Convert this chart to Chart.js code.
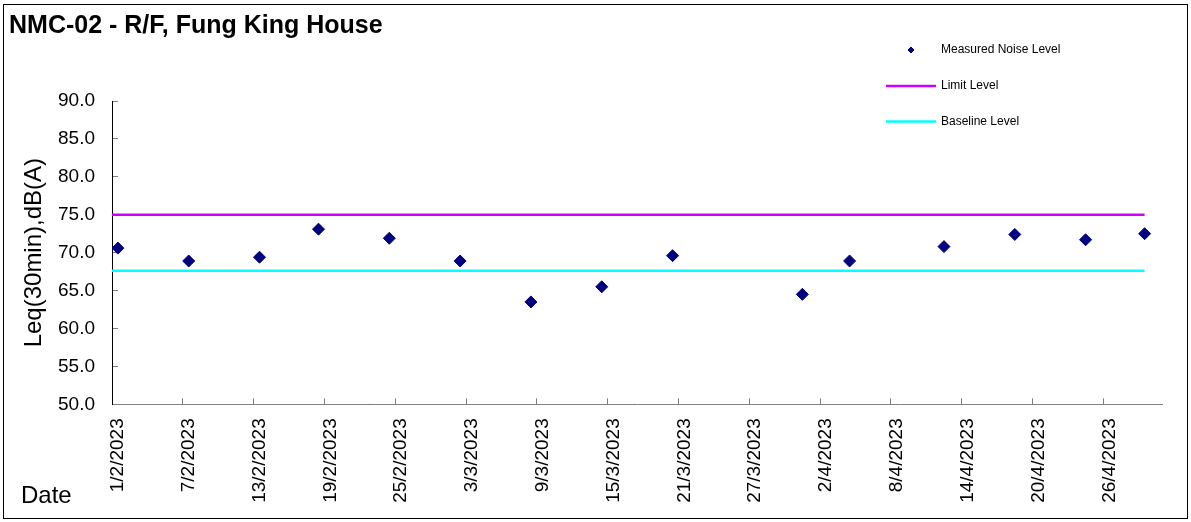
<!DOCTYPE html>
<html>
<head>
<meta charset="utf-8">
<script src="https://cdn.jsdelivr.net/npm/chart.js@4/dist/chart.umd.min.js"></script>
<style>
html, body { margin: 0; padding: 0; background: #fff; }
canvas { display: block; }
</style>
</head>
<body>
<canvas id="c" width="1191" height="522"></canvas>
<script>
// ---- data ----
const measuredDates = ["1/2/2023", "7/2/2023", "13/2/2023", "18/2/2023", "24/2/2023", "2/3/2023", "8/3/2023", "14/3/2023", "20/3/2023", "31/3/2023", "4/4/2023", "12/4/2023", "18/4/2023", "24/4/2023", "29/4/2023"];
const measuredValues = [70.6, 68.9, 69.4, 73.1, 71.9, 68.9, 63.5, 65.5, 69.6, 64.5, 68.9, 70.8, 72.4, 71.7, 72.5];
const limitLevel = 75.0;
const baselineLevel = 67.6;
const tickLabels = ["1/2/2023", "7/2/2023", "13/2/2023", "19/2/2023", "25/2/2023", "3/3/2023", "9/3/2023", "15/3/2023", "21/3/2023", "27/3/2023", "2/4/2023", "8/4/2023", "14/4/2023", "20/4/2023", "26/4/2023"];
const axisStartDate = "1/2/2023";
const axisEndDate = "1/5/2023";
const yMin = 50, yMax = 90, yStep = 5;
const seriesNames = ["Measured Noise Level", "Limit Level", "Baseline Level"];
const chartTitle = "NMC-02 - R/F, Fung King House";
const yTitle = "Leq(30min),dB(A)";
const xTitle = "Date";

// ---- helpers ----
function toUTC(s) {
  const [d, m, y] = s.split("/").map(Number);
  return Date.UTC(y, m - 1, d);
}
const startUTC = toUTC(axisStartDate);
function dayIndex(s) { return Math.round((toUTC(s) - startUTC) / 86400000); }
const SLOT_CENTER = 0.5; // Excel date axis: points sit in the middle of their day slot

const measuredPoints = measuredDates.map((d, i) => ({ x: dayIndex(d) + SLOT_CENTER, y: measuredValues[i] }));
const lineStart = dayIndex(axisStartDate);
const lineEnd = dayIndex(measuredDates[measuredDates.length - 1]) + SLOT_CENTER;
const tickDays = tickLabels.map(dayIndex);

const FONT = "'Liberation Sans', Arial, Helvetica, sans-serif";
Chart.defaults.font.family = FONT;
Chart.defaults.color = "#000";

const framePlugin = {
  id: "frame",
  beforeDraw(chart) {
    const ctx = chart.ctx;
    ctx.save();
    ctx.fillStyle = "#fff";
    ctx.fillRect(0, 0, chart.width, chart.height);
    ctx.strokeStyle = "#000";
    ctx.lineWidth = 1;
    ctx.strokeRect(3.5, 4.5, 1184, 514);
    ctx.restore();
  }
};

const legendLayout = { markerX: 911, lineX1: 886, lineX2: 936, textX: 941, rows: [50, 86, 121.5] };

const customLegend = {
  id: "customLegend",
  afterDraw(chart) {
    const ctx = chart.ctx;
    ctx.save();
    ctx.font = "12px " + FONT;
    ctx.textBaseline = "middle";
    ctx.textAlign = "left";
    chart.data.datasets.forEach((ds, i) => {
      const y = legendLayout.rows[i];
      if (ds.showLine) {
        ctx.strokeStyle = ds.borderColor;
        ctx.lineWidth = ds.borderWidth;
        ctx.beginPath();
        ctx.moveTo(legendLayout.lineX1, y);
        ctx.lineTo(legendLayout.lineX2, y);
        ctx.stroke();
      } else {
        ctx.fillStyle = ds.backgroundColor;
        ctx.strokeStyle = ds.borderColor;
        ctx.lineWidth = 1;
        ctx.beginPath();
        ctx.moveTo(legendLayout.markerX - 3, y);
        ctx.lineTo(legendLayout.markerX, y - 3);
        ctx.lineTo(legendLayout.markerX + 3, y);
        ctx.lineTo(legendLayout.markerX, y + 3);
        ctx.closePath();
        ctx.fill();
        ctx.stroke();
      }
      ctx.fillStyle = "#000";
      ctx.fillText(ds.label, legendLayout.textX, y);
    });
    // x axis title, placed at bottom-left like the original
    const xt = chart.options.scales.x.title;
    ctx.font = "24px " + FONT;
    ctx.textBaseline = "alphabetic";
    ctx.fillStyle = "#000";
    ctx.fillText(xt.text, 21, 502.5);
    ctx.restore();
  }
};

new Chart(document.getElementById("c"), {
  type: "scatter",
  data: {
    datasets: [
      {
        label: seriesNames[0],
        data: measuredPoints,
        showLine: false,
        pointStyle: "rectRot",
        pointRadius: 6,
        pointHoverRadius: 6,
        backgroundColor: "#000080",
        borderColor: "#000080",
        borderWidth: 1
      },
      {
        label: seriesNames[1],
        data: [{ x: lineStart, y: limitLevel }, { x: lineEnd, y: limitLevel }],
        showLine: true,
        pointRadius: 0,
        borderColor: "#CC00FF",
        backgroundColor: "#CC00FF",
        borderWidth: 2.5
      },
      {
        label: seriesNames[2],
        data: [{ x: lineStart, y: baselineLevel }, { x: lineEnd, y: baselineLevel }],
        showLine: true,
        pointRadius: 0,
        borderColor: "#00FFFF",
        backgroundColor: "#00FFFF",
        borderWidth: 2.5
      }
    ]
  },
  options: {
    responsive: false,
    animation: false,
    layout: { padding: { left: 9, right: 28.7, top: 0, bottom: 0 } },
    plugins: {
      legend: { display: false },
      tooltip: { enabled: false },
      title: {
        display: true,
        text: chartTitle,
        align: "start",
        color: "#000",
        font: { size: 25, weight: "bold" },
        padding: { top: 11, bottom: 60 }
      }
    },
    scales: {
      x: {
        type: "linear",
        min: dayIndex(axisStartDate),
        max: dayIndex(axisEndDate),
        afterBuildTicks(scale) { scale.ticks = tickDays.map(v => ({ value: v })); },
        afterFit(scale) { scale.height = 117.7; },
        grid: { display: true, drawOnChartArea: false, drawTicks: true, tickLength: -6, color: "#808080" },
        border: { display: true, color: "#808080", width: 1 },
        title: { display: false, text: xTitle },
        ticks: {
          autoSkip: false,
          minRotation: 90,
          maxRotation: 90,
          padding: 20,
          labelOffset: 6,
          color: "#000",
          font: { size: 19 },
          callback: (v, i) => tickLabels[i]
        }
      },
      y: {
        min: yMin,
        max: yMax,
        afterFit(scale) { scale.width = 103; },
        grid: { display: true, drawOnChartArea: false, drawTicks: true, tickLength: -6, color: "#808080" },
        border: { display: true, color: "#000", width: 1 },
        title: { display: true, text: yTitle, color: "#000", font: { size: 24 }, padding: { top: 10.6, bottom: 0 } },
        ticks: {
          stepSize: yStep,
          padding: 23,
          color: "#000",
          font: { size: 19 },
          callback: v => Number(v).toFixed(1)
        }
      }
    }
  },
  plugins: [framePlugin, customLegend]
});
</script>
</body>
</html>
